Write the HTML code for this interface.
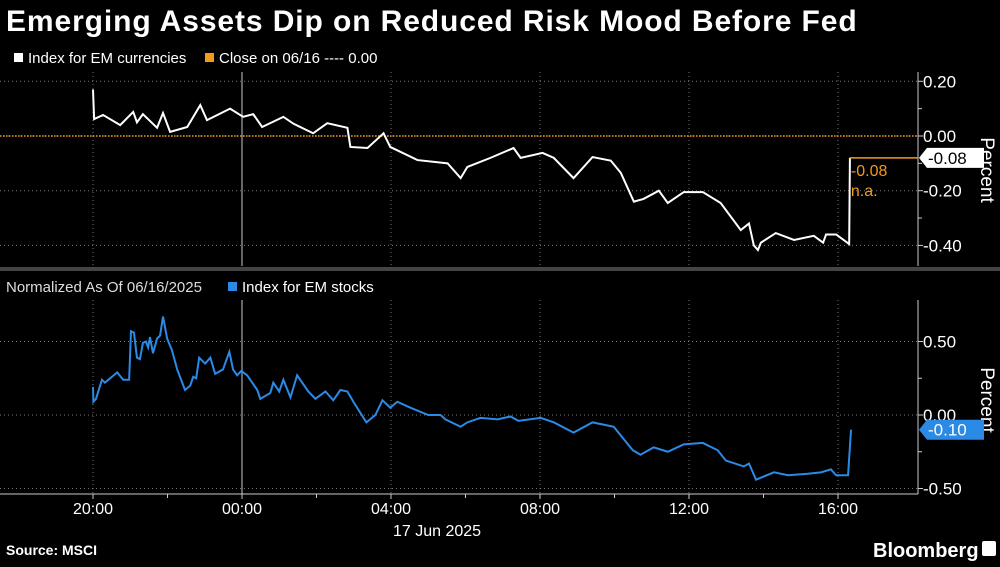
<!DOCTYPE html>
<html><head><meta charset="utf-8"><style>
body{margin:0;background:#000;width:1000px;height:562px;overflow:hidden;font-family:"Liberation Sans",sans-serif;}
svg text{font-family:"Liberation Sans",sans-serif;}
</style></head><body>
<svg id="c" width="1000" height="562" xmlns="http://www.w3.org/2000/svg">
<text x="6" y="31" fill="#fff" font-size="30" font-weight="bold" letter-spacing="0.9">Emerging Assets Dip on Reduced Risk Mood Before Fed</text>
<g>
<rect x="14" y="53" width="9" height="9" fill="#fff"/>
<text x="28" y="63" fill="#fff" font-size="15">Index for EM currencies</text>
<rect x="205" y="53" width="9" height="9" fill="#f39a1b"/>
<text x="219" y="63" fill="#fff" font-size="15">Close on 06/16 ---- 0.00</text>
</g>
<rect x="0" y="267" width="1000" height="4" fill="#444"/>
<g>
<text x="6" y="292" fill="#ddd" font-size="15">Normalized As Of 06/16/2025</text>
<rect x="228" y="282" width="9" height="9" fill="#2b8ae6"/>
<text x="242" y="292" fill="#fff" font-size="15">Index for EM stocks</text>
</g>
<g id="grid"></g>
<g id="series"></g>
<text x="6" y="555" fill="#fff" font-size="14" font-weight="bold">Source: MSCI</text>
<text x="873" y="557" fill="#fff" font-size="20" font-weight="bold">Bloomberg</text>
<rect x="982" y="541" width="14" height="15" fill="#fff" rx="2"/>
</svg>
<script>
const xTickLabels=["20:00","00:00","04:00","08:00","12:00","16:00"];
const xTickHours=[0,4,8,12,16,20];
const topTicks=[0.2,0,-0.2,-0.4];
const botTicks=[0.5,0,-0.5];
const curHours=[0,0.03,0.27,0.73,1.08,1.18,1.34,1.72,1.88,2.07,2.53,2.88,3.06,3.68,4.03,4.3,4.54,5.11,5.38,5.91,6.29,6.83,6.91,7.37,7.8,7.98,8.71,9.52,9.87,10.05,10.67,11.29,11.48,12.07,12.37,12.9,13.41,13.9,14.17,14.52,14.78,15.19,15.43,15.86,16.37,16.85,17.39,17.61,17.74,17.85,17.93,18.33,18.82,19.35,19.6,19.68,19.95,20.3,20.32];
const curValues=[0.17,0.062,0.077,0.04,0.088,0.05,0.08,0.03,0.084,0.015,0.033,0.113,0.058,0.1,0.07,0.08,0.033,0.07,0.045,0.01,0.047,0.03,-0.04,-0.044,0.01,-0.04,-0.088,-0.1,-0.154,-0.113,-0.08,-0.044,-0.08,-0.062,-0.08,-0.154,-0.077,-0.09,-0.135,-0.24,-0.23,-0.2,-0.245,-0.205,-0.205,-0.245,-0.344,-0.32,-0.4,-0.417,-0.39,-0.355,-0.38,-0.365,-0.39,-0.36,-0.36,-0.395,-0.08];
const stkHours=[0,0.01,0.08,0.24,0.32,0.65,0.81,0.97,1.02,1.1,1.18,1.26,1.34,1.42,1.48,1.53,1.61,1.72,1.8,1.88,1.99,2.12,2.26,2.47,2.61,2.69,2.77,2.85,3.01,3.15,3.28,3.49,3.66,3.76,3.87,3.98,4.14,4.41,4.49,4.76,4.84,5.0,5.11,5.3,5.48,5.78,5.97,6.24,6.45,6.64,6.83,6.99,7.34,7.58,7.77,7.98,8.17,8.52,9.0,9.33,9.46,9.87,10.05,10.4,10.86,11.21,11.42,12.02,12.37,12.9,13.41,13.98,14.49,14.7,15.05,15.43,15.86,16.37,16.77,16.99,17.47,17.61,17.8,18.28,18.66,19.19,19.54,19.81,19.95,20.27,20.35];
const stkValues=[0.19,0.09,0.11,0.24,0.22,0.29,0.24,0.24,0.57,0.56,0.39,0.38,0.49,0.5,0.46,0.53,0.42,0.52,0.54,0.67,0.52,0.44,0.31,0.17,0.2,0.26,0.25,0.39,0.35,0.39,0.28,0.31,0.43,0.31,0.27,0.3,0.27,0.17,0.11,0.15,0.22,0.16,0.24,0.12,0.27,0.16,0.11,0.16,0.1,0.17,0.16,0.09,-0.05,0.0,0.1,0.05,0.09,0.05,0.0,0.0,-0.03,-0.08,-0.05,-0.02,-0.03,-0.01,-0.04,-0.02,-0.05,-0.12,-0.05,-0.08,-0.24,-0.27,-0.22,-0.25,-0.2,-0.19,-0.24,-0.31,-0.35,-0.33,-0.44,-0.39,-0.41,-0.4,-0.39,-0.37,-0.41,-0.41,-0.10];
const curClose=0.0, curLast=-0.08, stkLast=-0.10;

const NS="http://www.w3.org/2000/svg";
const x=h=>93+h*37.25;
const yT=v=>136-v*273.5;
const yB=v=>415-v*147;
const AX=918;
function mk(tag,attrs,parent){const e=document.createElementNS(NS,tag);for(const k in attrs)e.setAttribute(k,attrs[k]);parent.appendChild(e);return e;}
const g=document.getElementById('grid'), s=document.getElementById('series');

xTickHours.forEach((h,i)=>{
  let l=mk('line',{x1:x(h),x2:x(h),y1:72,y2:266,stroke:'#777','stroke-dasharray':'1,3'},g);
  
  
  let l2=mk('line',{x1:x(h),x2:x(h),y1:300,y2:494,stroke:'#777','stroke-dasharray':'1,3'},g);
  
  
  let t=mk('text',{x:x(h),y:514,fill:'#fff','font-size':16,'text-anchor':'middle'},g);
  t.textContent=xTickLabels[i];
  
  
  let tk=mk('line',{x1:x(h),x2:x(h),y1:494,y2:499,stroke:'#ccc'},g);
  
  
});
for(let h=2;h<22;h+=4){let tk=mk('line',{x1:x(h),x2:x(h),y1:494,y2:498,stroke:'#ccc'},g);
  
  }
[[72,266],[300,494]].forEach(r=>{let l=mk('line',{x1:x(4),x2:x(4),y1:r[0],y2:r[1],stroke:'#666','stroke-width':2},g);
  
  });
let dl=mk('text',{x:437,y:536,fill:'#fff','font-size':16,'text-anchor':'middle'},g);dl.textContent='17 Jun 2025';


let bl=mk('line',{x1:0,x2:AX,y1:494,y2:494,stroke:'#ccc'},g);


[[72,266],[300,494]].forEach(r=>{let l=mk('line',{x1:AX,x2:AX,y1:r[0],y2:r[1],stroke:'#ccc'},g);
  
  });
topTicks.forEach(v=>{
  let l=mk('line',{x1:0,x2:AX,y1:yT(v),y2:yT(v),stroke:'#777','stroke-dasharray':'1,3'},g);
  
  
  let tk=mk('line',{x1:AX,x2:AX+5,y1:yT(v),y2:yT(v),stroke:'#ccc'},g);
  
  
  let t=mk('text',{x:AX+5,y:yT(v)+6,fill:'#fff','font-size':17},g);t.textContent=v.toFixed(2);
  
  
});
[0.1,-0.1,-0.3].forEach(v=>{let tk=mk('line',{x1:AX,x2:AX+4,y1:yT(v),y2:yT(v),stroke:'#ccc'},g);
  
  });
botTicks.forEach(v=>{
  let l=mk('line',{x1:0,x2:AX,y1:yB(v),y2:yB(v),stroke:'#777','stroke-dasharray':'1,3'},g);
  
  
  let tk=mk('line',{x1:AX,x2:AX+5,y1:yB(v),y2:yB(v),stroke:'#ccc'},g);
  
  
  let t=mk('text',{x:AX+5,y:yB(v)+6,fill:'#fff','font-size':17},g);t.textContent=v.toFixed(2);
  
  
});
[0.25,-0.25].forEach(v=>{let tk=mk('line',{x1:AX,x2:AX+4,y1:yB(v),y2:yB(v),stroke:'#ccc'},g);
  
  });
[[170],[400]].forEach(p=>{let t=mk('text',{x:0,y:0,fill:'#fff','font-size':19,'text-anchor':'middle',transform:`translate(981,${p[0]}) rotate(90)`},g);t.textContent='Percent';
  
  });
let cl=mk('line',{x1:0,x2:AX,y1:yT(curClose),y2:yT(curClose),stroke:'#f39a1b','stroke-width':1.5,'stroke-dasharray':'1.5,1.5'},s);


let p1=mk('polyline',{points:curHours.map((h,i)=>x(h)+','+yT(curValues[i])).join(' '),fill:'none',stroke:'#fff','stroke-width':2},s);


const lx=x(curHours[curHours.length-1]);
let ol=mk('line',{x1:lx,x2:AX,y1:yT(curLast),y2:yT(curLast),stroke:'#f39a1b','stroke-width':1.5},s);


let o1=mk('text',{x:lx+1,y:yT(curLast)+18,fill:'#f39a1b','font-size':16},s);o1.textContent=curLast.toFixed(2);


let o2=mk('text',{x:lx+1,y:yT(curLast)+38,fill:'#f39a1b','font-size':16},s);o2.textContent='n.a.';


function badge(yv,val,bg,fg,name){
  let gg=mk('g',{},s);
  
  
  mk('path',{d:`M${AX+1},${yv} L${AX+9},${yv-10} L${AX+66},${yv-10} L${AX+66},${yv+10} L${AX+9},${yv+10} Z`,fill:bg},gg);
  let t=mk('text',{x:AX+10,y:yv+6,fill:fg,'font-size':17},gg);t.textContent=val.toFixed(2);
}
badge(yT(curLast),curLast,'#fff','#000','currencies-last-badge');
let p2=mk('polyline',{points:stkHours.map((h,i)=>x(h)+','+yB(stkValues[i])).join(' '),fill:'none',stroke:'#2b8ae6','stroke-width':2},s);


badge(yB(stkLast),stkLast,'#2b8ae6','#fff','stocks-last-badge');
</script>
</body></html>
